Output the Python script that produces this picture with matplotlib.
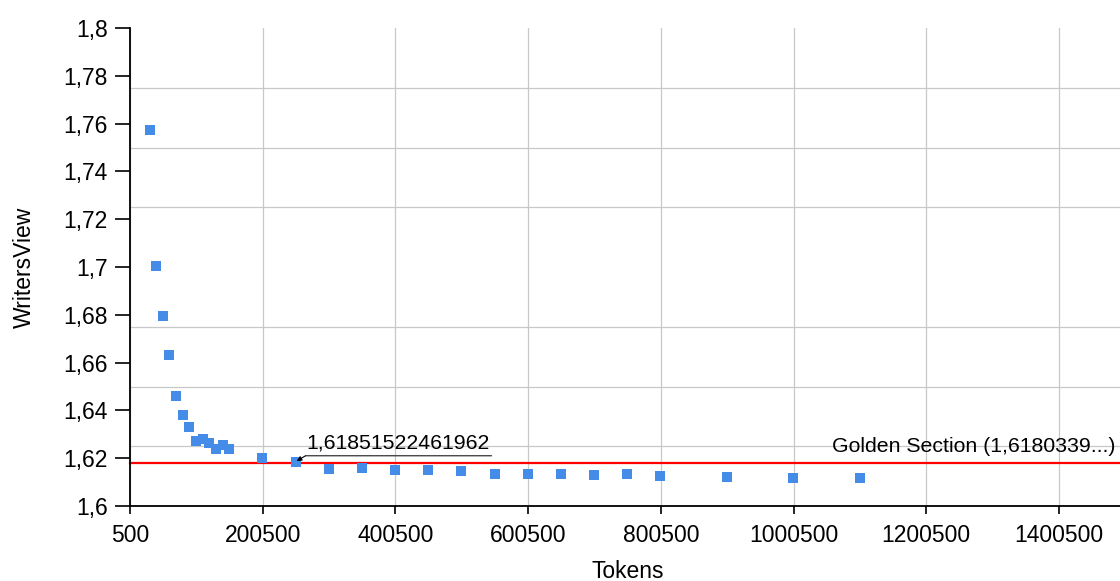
import matplotlib
matplotlib.use("Agg")
import matplotlib.pyplot as plt
import matplotlib.transforms as mtransforms
from matplotlib.ticker import MultipleLocator, FuncFormatter
import numpy as np

plt.rcParams['font.family'] = ['Liberation Sans', 'DejaVu Sans']

# Measured ratio of the two views at increasing corpus size
tokens = [30000, 40000, 50000, 60000, 70000, 80000, 90000, 100000, 110000,
          120000, 130000, 140000, 150000, 200000, 250000, 300000, 350000,
          400000, 450000, 500000, 550000, 600000, 650000, 700000, 750000,
          800000, 900000, 1000000, 1100000, 1500000]
writers_view = [1.7573, 1.7005, 1.6795, 1.6632, 1.6462, 1.6382, 1.6329,
                1.6273, 1.6280, 1.6262, 1.6237, 1.6255, 1.6237, 1.6202,
                1.61851522461962, 1.6154, 1.6160, 1.6151, 1.6151, 1.6146,
                1.6133, 1.6133, 1.6133, 1.6131, 1.6133, 1.6126, 1.6123,
                1.6116, 1.6116, 1.6105]

golden = 1.6180339887
highlight_token = 250000
highlight_value = 1.61851522461962
x_ticks = [500, 200500, 400500, 600500, 800500, 1000500, 1200500, 1400500]

W, H, DPI = 1120, 581, 100
fig = plt.figure(figsize=(W / DPI, H / DPI), dpi=DPI)
left_px, right_px, top_px, bottom_px = 130, 1125.3, 28, 506
ax = fig.add_axes([left_px / W, 1 - bottom_px / H,
                   (right_px - left_px) / W, (bottom_px - top_px) / H])

ax.set_xlim(500, 1500500)
ax.set_ylim(1.6, 1.8)

# grid: vertical at the x ticks, horizontal every 0.025
ax.set_xticks(x_ticks)
ax.yaxis.set_major_locator(MultipleLocator(0.02))
ax.yaxis.set_minor_locator(MultipleLocator(0.025))
ax.grid(True, axis='x', which='major', color='#c8c8c8', lw=0.9)
ax.grid(True, axis='y', which='minor', color='#c8c8c8', lw=0.9)
ax.grid(False, axis='y', which='major')
ax.set_axisbelow(True)

ax.yaxis.set_major_formatter(FuncFormatter(
    lambda v, p: f"{v:.2f}".rstrip('0').rstrip('.').replace('.', ',')))
ax.xaxis.set_major_formatter(FuncFormatter(lambda v, p: f"{int(round(v))}"))

ax.tick_params(axis='y', which='major', direction='out', length=11, width=1.2,
               pad=5, labelsize=16.5)
ax.tick_params(axis='x', which='major', direction='out', length=6, width=1.2,
               pad=7, labelsize=16.5)
ax.tick_params(axis='y', which='minor', length=0)
ax.yaxis.get_major_ticks()[-1].tick1line.set_visible(False)

for s in ('top', 'right'):
    ax.spines[s].set_visible(False)
for s in ('left', 'bottom'):
    ax.spines[s].set_linewidth(1.3)
    ax.spines[s].set_color('black')

ax.axhline(golden, color='#ff0000', lw=1.6, zorder=2, clip_on=False)
ax.plot(tokens, writers_view, linestyle='none', marker='s', ms=7.6,
        mew=0, color='#458be8', zorder=3, clip_on=False)

ax.set_xlabel('Tokens', fontsize=16.5, labelpad=9)
ax.set_ylabel('WritersView', fontsize=16.5, labelpad=20)

# value callout with leader and underline
lbl = f"{highlight_value}".replace('.', ',')
ax.annotate(lbl, xy=(highlight_token, highlight_value),
            xytext=(11, 13.4), textcoords='offset pixels',
            ha='left', va='baseline', fontsize=15.3, zorder=5)
off_a = ax.transData + mtransforms.Affine2D().translate(10, 6)
off_b = ax.transData + mtransforms.Affine2D().translate(196, 6)
ax.annotate('', xy=(highlight_token, highlight_value), xycoords='data',
            xytext=(highlight_token, highlight_value), textcoords=off_a,
            arrowprops=dict(arrowstyle='-|>', color='black', lw=0.8,
                            shrinkA=0, shrinkB=1, mutation_scale=7),
            zorder=5)
ax.annotate('', xy=(highlight_token, highlight_value), xycoords=off_b,
            xytext=(highlight_token, highlight_value), textcoords=off_a,
            arrowprops=dict(arrowstyle='-', color='#333333', lw=0.9,
                            shrinkA=0, shrinkB=0),
            zorder=5)

ax.text(1486000, golden + 0.0046, 'Golden Section (1,6180339...)',
        ha='right', va='baseline', fontsize=15.3, zorder=5)

fig.savefig('out.png', dpi=DPI)
